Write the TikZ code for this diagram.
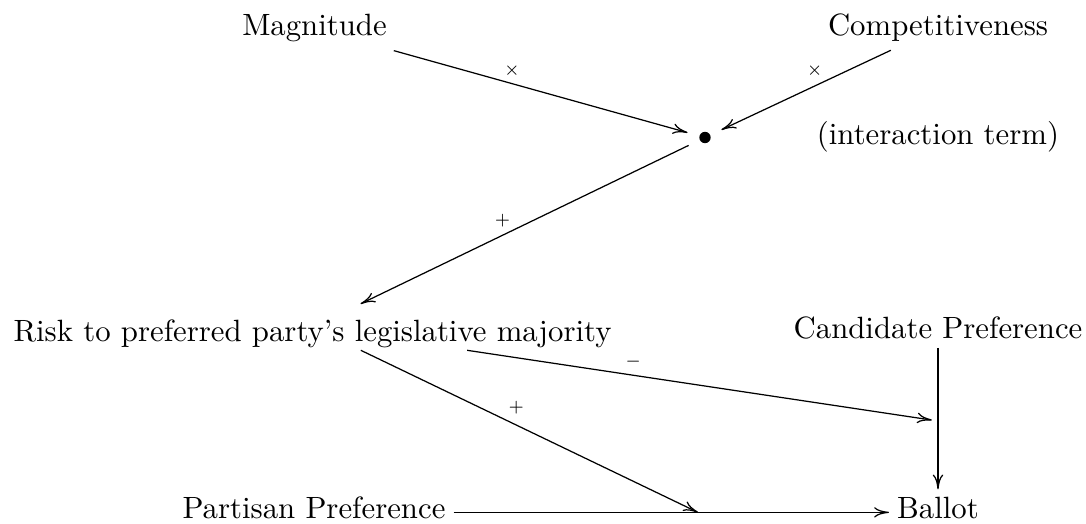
\documentclass[tikz,border=0pt]{standalone}
\usetikzlibrary{arrows.meta}
\begin{document}
\begin{tikzpicture}[x=0.325pt,y=-0.325pt,
  lbl/.style={inner sep=2.5pt, anchor=base},
  arr/.style={-{To[length=4.8pt,width=3.4pt]}, line width=0.4pt},
  sgn/.style={inner sep=0pt, font=\tiny}]
\useasboundingbox (0,0) rectangle (1086,524);
% nodes
\node[lbl] (mag) at (314.5,36) {Magnitude};
\node[lbl] (comp) at (938,36) {Competitiveness};
\node[circle, minimum size=11.4pt, inner sep=0pt] (dot) at (705,137.5) {};
\fill (dot.center) circle (1.85pt);
\node[lbl] (int) at (938,145) {(interaction term)};
\node[lbl, text height=9.7pt, text depth=0pt] (risk) at (312.5,342) {Risk to preferred party's legislative majority};
\node[lbl] (cand) at (938,339) {Candidate Preference};
\node[lbl] (part) at (314,519) {Partisan Preference};
\node[lbl] (ballot) at (938,519) {Ballot};
\coordinate (p1) at (938,421);
\coordinate (p2) at (698,512.4);
% connectors
\draw[arr] (mag) -- node[sgn, pos=0.4025, yshift=4.3pt] (l1) {$\times$} (dot);
\draw[arr] (comp) -- node[sgn, pos=0.45, yshift=5.1pt] (l2) {$\times$} (dot);
\draw[arr] (dot) -- node[sgn, pos=0.567, yshift=4.9pt] (l3) {$+$} (risk);
\draw[arr, shorten >=2pt] (risk) -- node[sgn, pos=0.3526, yshift=4.5pt] (l4) {$-$} (p1);
\draw[arr] (risk) -- node[sgn, pos=0.4607, yshift=5.5pt] (l5) {$+$} (p2);
\draw[arr] (part.mid east) -- (ballot.mid west);
\draw[arr] (cand) -- (ballot);
\end{tikzpicture}
\end{document}
